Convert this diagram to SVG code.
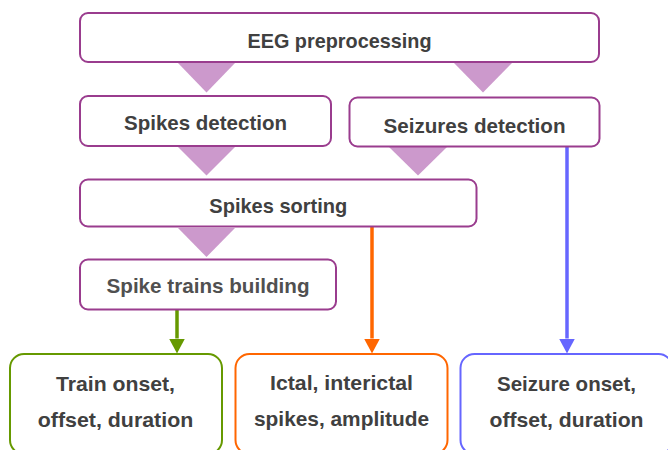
<svg xmlns="http://www.w3.org/2000/svg" width="668" height="450" viewBox="0 0 668 450">
<style>
.box{fill:#ffffff;stroke:#9a3c8e;stroke-width:2}
.tri{fill:#cc99cc}
.t{font-family:"Liberation Sans",Arial,sans-serif;font-weight:bold;font-size:20.5px;fill:#404040;text-anchor:middle}
.out{fill:#ffffff;stroke-width:2}
.ln{stroke-width:3.5;fill:none}
</style>
<defs>
<marker id="ag" markerUnits="userSpaceOnUse" viewBox="0 0 15 16" markerWidth="15" markerHeight="16" refX="0" refY="8" orient="auto"><path d="M0,0 L15,8 L0,16 z" fill="#669900"/></marker>
<marker id="ao" markerUnits="userSpaceOnUse" viewBox="0 0 15 16" markerWidth="15" markerHeight="16" refX="0" refY="8" orient="auto"><path d="M0,0 L15,8 L0,16 z" fill="#ff6600"/></marker>
<marker id="ab" markerUnits="userSpaceOnUse" viewBox="0 0 15 16" markerWidth="15" markerHeight="16" refX="0" refY="8" orient="auto"><path d="M0,0 L15,8 L0,16 z" fill="#6666ff"/></marker>
</defs>
<g id="connectors">
<polygon class="tri" points="178,63 235,63 206.5,92.5"/>
<polygon class="tri" points="454,63 512,63 483,92.5"/>
<polygon class="tri" points="178,147 235,147 206.5,175.5"/>
<polygon class="tri" points="389,147 447,147 418,175.5"/>
<polygon class="tri" points="178,228 235,228 206.5,257"/>
<line class="ln" x1="177" y1="310" x2="177" y2="338.5" stroke="#669900" marker-end="url(#ag)"/>
<line class="ln" x1="372" y1="227" x2="372" y2="338.5" stroke="#ff6600" marker-end="url(#ao)"/>
<line class="ln" x1="567" y1="147" x2="567" y2="338.5" stroke="#6666ff" marker-end="url(#ab)"/>
</g>
<g id="eeg">
<rect class="box" x="80" y="13" width="519" height="49" rx="8"/>
<text class="t" x="339.5" y="47.7" textLength="184" lengthAdjust="spacingAndGlyphs">EEG preprocessing</text>
</g>
<g id="spikes-detection">
<rect class="box" x="80" y="96" width="251" height="50" rx="8"/>
<text class="t" x="205.5" y="129.5" textLength="163" lengthAdjust="spacingAndGlyphs">Spikes detection</text>
</g>
<g id="seizures-detection">
<rect class="box" x="349.5" y="97.5" width="250" height="49" rx="8"/>
<text class="t" x="474.5" y="132.7" textLength="182" lengthAdjust="spacingAndGlyphs">Seizures detection</text>
</g>
<g id="spikes-sorting">
<rect class="box" x="80" y="179.5" width="396.5" height="47" rx="8"/>
<text class="t" x="278.3" y="213.3" textLength="138" lengthAdjust="spacingAndGlyphs">Spikes sorting</text>
</g>
<g id="spike-trains">
<rect class="box" x="80" y="259.5" width="256" height="50" rx="8"/>
<text class="t" x="208" y="293.3" textLength="203" lengthAdjust="spacingAndGlyphs" style="fill:#505050">Spike trains building</text>
</g>
<g id="train-out">
<rect class="out" x="10" y="354" width="212" height="100" rx="14" stroke="#669900"/>
<text class="t" x="115.5" y="391" textLength="119" lengthAdjust="spacingAndGlyphs">Train onset,</text>
<text class="t" x="115.5" y="427" textLength="155.5" lengthAdjust="spacingAndGlyphs">offset, duration</text>
</g>
<g id="spikes-out">
<rect class="out" x="235.5" y="354" width="212" height="100" rx="14" stroke="#ff6600"/>
<text class="t" x="341.5" y="390" textLength="143" lengthAdjust="spacingAndGlyphs">Ictal, interictal</text>
<text class="t" x="341.5" y="426" textLength="175" lengthAdjust="spacingAndGlyphs">spikes, amplitude</text>
</g>
<g id="seizure-out">
<rect class="out" x="460.5" y="354" width="212" height="100" rx="14" stroke="#6666ff"/>
<text class="t" x="566.5" y="391" textLength="139" lengthAdjust="spacingAndGlyphs">Seizure onset,</text>
<text class="t" x="566.5" y="427" textLength="154" lengthAdjust="spacingAndGlyphs">offset, duration</text>
</g>
</svg>
